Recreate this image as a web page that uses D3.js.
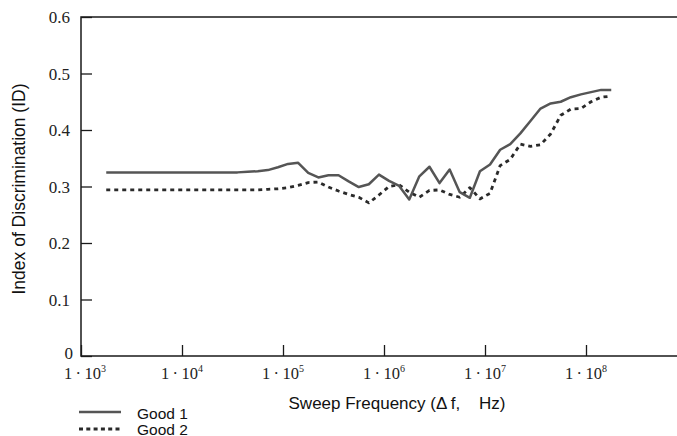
<!DOCTYPE html>
<html>
<head>
<meta charset="utf-8">
<script src="https://cdn.jsdelivr.net/npm/d3@7"></script>
<style>
  html, body { margin: 0; padding: 0; background: #fff; }
  svg { display: block; }
  .serif { font-family: "Liberation Serif", "DejaVu Serif", Tinos, "Times New Roman", Times, "Nimbus Roman", FreeSerif, serif; }
  .sans { font-family: "Liberation Sans", Arial, Helvetica, sans-serif; }
</style>
</head>
<body>
<svg id="chart" width="677" height="436"></svg>
<script>
// ---- data ----
const freqs = [
  1.778e3, 2.239e3, 2.818e3, 3.548e3, 4.467e3, 5.623e3, 7.079e3, 8.913e3,
  1.122e4, 1.413e4, 1.778e4, 2.239e4, 2.818e4, 3.548e4, 4.467e4, 5.623e4, 7.079e4, 8.913e4,
  1.122e5, 1.413e5, 1.778e5, 2.239e5, 2.818e5, 3.548e5, 4.467e5, 5.623e5, 7.079e5, 8.913e5,
  1.122e6, 1.413e6, 1.778e6, 2.239e6, 2.818e6, 3.548e6, 4.467e6, 5.623e6, 7.079e6, 8.913e6,
  1.122e7, 1.413e7, 1.778e7, 2.239e7, 2.818e7, 3.548e7, 4.467e7, 5.623e7, 7.079e7, 8.913e7,
  1.122e8, 1.413e8, 1.778e8
];
const good1 = [
  0.325, 0.325, 0.325, 0.325, 0.325, 0.325, 0.325, 0.325, 0.325, 0.325, 0.325, 0.325, 0.325, 0.325,
  0.326, 0.327, 0.329, 0.334, 0.340, 0.342, 0.324, 0.316, 0.320, 0.320, 0.309, 0.299, 0.304, 0.321,
  0.310, 0.301, 0.277, 0.318, 0.335, 0.306, 0.330, 0.290, 0.280, 0.327, 0.339, 0.365, 0.375, 0.394,
  0.416, 0.438, 0.447, 0.450, 0.458, 0.463, 0.467, 0.471, 0.471
];
const good2 = [
  0.294, 0.294, 0.294, 0.294, 0.294, 0.294, 0.294, 0.294, 0.294, 0.294, 0.294, 0.294, 0.294, 0.294, 0.294, 0.294,
  0.295, 0.296, 0.298, 0.302, 0.307, 0.308, 0.299, 0.292, 0.286, 0.281, 0.271, 0.285, 0.300, 0.303,
  0.290, 0.281, 0.293, 0.294, 0.286, 0.281, 0.298, 0.278, 0.288, 0.337, 0.348, 0.375, 0.371, 0.374,
  0.393, 0.426, 0.437, 0.438, 0.450, 0.458, 0.460
];
const seriesNames = ["Good 1", "Good 2"];
const xTickValues = [1e3, 1e4, 1e5, 1e6, 1e7, 1e8];
const xTickExponents = ["3", "4", "5", "6", "7", "8"];
const yTickValues = [0, 0.1, 0.2, 0.3, 0.4, 0.5, 0.6];
const yTickLabels = ["0", "0.1", "0.2", "0.3", "0.4", "0.5", "0.6"];
const xTitle = "Sweep Frequency (\u0394\u2009f,\u00a0\u00a0\u00a0\u00a0Hz)";
const yTitle = "Index of Discrimination (ID)";

// ---- layout ----
const svg = d3.select("#chart");
const mLeft = 81, mRight = 687, mTop = 17, mBottom = 356;
const x = d3.scaleLog().domain([1e3, 1e9]).range([mLeft, mRight]);
const y = d3.scaleLinear().domain([0, 0.6]).range([mBottom, mTop]);
const axisColor = "#1a1a1a";

// frame (top, left, bottom)
svg.append("path")
  .attr("d", `M${mRight},${mTop}H${mLeft}V${mBottom}H${mRight}`)
  .attr("fill", "none").attr("stroke", axisColor).attr("stroke-width", 1.5);

// x axis ticks (inward)
const xAxis = d3.axisTop(x).tickValues(xTickValues).tickSize(11).tickFormat("");
const gx = svg.append("g").attr("transform", `translate(0,${mBottom})`).call(xAxis);
gx.select(".domain").remove();
gx.selectAll(".tick line").attr("stroke", axisColor).attr("stroke-width", 1.3);

// x tick labels with superscripts
const xl = svg.append("g");
xTickValues.forEach((v, i) => {
  const t = xl.append("text").attr("class", "serif")
    .attr("x", x(v) + (i === 0 ? 4 : 0))
    .attr("y", 379)
    .attr("text-anchor", "middle")
    .style("font-size", "16.5px").attr("fill", "#222");
  t.append("tspan").text("1\u2009\u00b7\u200910");
  t.append("tspan").style("font-size", "10px").attr("dy", -7).text(xTickExponents[i]);
});

// y axis ticks (inward)
const yAxis = d3.axisRight(y).tickValues(yTickValues).tickSize(11).tickFormat("");
const gy = svg.append("g").attr("transform", `translate(${mLeft},0)`).call(yAxis);
gy.select(".domain").remove();
gy.selectAll(".tick line").attr("stroke", axisColor).attr("stroke-width", 1.3);

// y tick labels
svg.append("g").selectAll("text").data(yTickValues).join("text")
  .attr("class", "serif")
  .attr("x", (d, i) => i === 0 ? 73 : 70)
  .attr("y", (d, i) => y(d) + (i === 0 ? 3 : 6))
  .attr("text-anchor", "end")
  .style("font-size", "17px").attr("fill", "#222")
  .text((d, i) => yTickLabels[i]);

// lines
const line = d3.line().x(d => x(d[0])).y(d => y(d[1]));
const d1 = freqs.map((f, i) => [f, good1[i]]);
const d2 = freqs.map((f, i) => [f, good2[i]]);
svg.append("path").datum(d2).attr("d", line)
  .attr("fill", "none").attr("stroke", "#2a2a2a").attr("stroke-width", 2.8)
  .attr("stroke-dasharray", "4,4").attr("stroke-linejoin", "round");
svg.append("path").datum(d1).attr("d", line)
  .attr("fill", "none").attr("stroke", "#555").attr("stroke-width", 2.5)
  .attr("stroke-linejoin", "round");

// axis titles
svg.append("text").attr("class", "sans")
  .attr("transform", `translate(25,189) rotate(-90)`)
  .attr("text-anchor", "middle")
  .style("font-size", "17.5px").attr("fill", "#111")
  .text(yTitle);
svg.append("text").attr("class", "sans")
  .attr("x", 397).attr("y", 409)
  .attr("text-anchor", "middle")
  .style("font-size", "17px").attr("fill", "#111")
  .text(xTitle);

// legend
const leg = svg.append("g");
const legY = [412, 429];
const legBase = [419, 434.5];
seriesNames.forEach((name, i) => {
  leg.append("line")
    .attr("x1", 79).attr("x2", 121).attr("y1", legY[i]).attr("y2", legY[i])
    .attr("stroke", i === 0 ? "#555" : "#2a2a2a")
    .attr("stroke-width", i === 0 ? 2.5 : 2.8)
    .attr("stroke-dasharray", i === 0 ? null : "4,3.3");
  leg.append("text").attr("class", "sans")
    .attr("x", 137).attr("y", legBase[i])
    .style("font-size", "15.5px").attr("fill", "#111")
    .text(name);
});
</script>
</body>
</html>
